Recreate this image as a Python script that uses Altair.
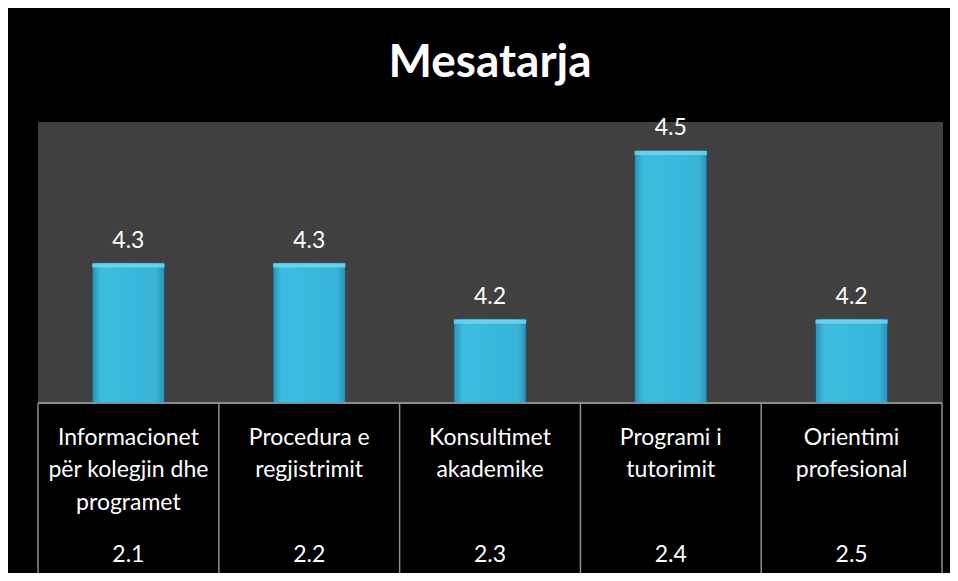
import altair as alt
import pandas as pd

categories = ["2.1", "2.2", "2.3", "2.4", "2.5"]
values = [4.3, 4.3, 4.2, 4.5, 4.2]
line1 = ["Informacionet", "Procedura e", "Konsultimet", "Programi i", "Orientimi"]
line2 = ["për kolegjin dhe", "regjistrimit", "akademike", "tutorimit", "profesional"]
line3 = ["programet", "", "", "", ""]
boundaries = [0, 1, 2, 3, 4, 5]

df = pd.DataFrame({"code": categories, "value": values,
                   "l1": line1, "l2": line2, "l3": line3})
bdf = pd.DataFrame({"b": boundaries})

FONT = "Lato"
W, H = 904, 281
YMIN, YMAX = 4.05, 4.55

xenc = alt.X("code:N", sort=categories, axis=None,
             scale=alt.Scale(paddingInner=0.6, paddingOuter=0.3))
yscale = alt.Scale(domain=[YMIN, YMAX], zero=False, nice=False)

grad = alt.Gradient(gradient="linear",
                    stops=[alt.GradientStop(color="#2a92b6", offset=0),
                           alt.GradientStop(color="#3cbde0", offset=0.12),
                           alt.GradientStop(color="#38b4d9", offset=0.88),
                           alt.GradientStop(color="#2a92b6", offset=1)],
                    x1=0, x2=1, y1=0, y2=0)

bars = alt.Chart(df).mark_bar(color=grad, stroke="#1d5668", strokeWidth=1).encode(
    x=xenc,
    y=alt.Y("value:Q", scale=yscale, axis=None),
    y2=alt.datum(YMIN),
)

bevel = alt.Chart(df).mark_tick(color="#6cd7f2", thickness=4, yOffset=3, opacity=0.85).encode(
    x=xenc,
    y=alt.Y("value:Q", scale=yscale, axis=None),
)

labels = alt.Chart(df).mark_text(color="white", font=FONT, fontSize=23,
                                 baseline="bottom", dy=-10).encode(
    x=xenc,
    y=alt.Y("value:Q", scale=yscale, axis=None),
    text=alt.Text("value:Q", format=".1f"),
)

def row(field, ypos):
    return alt.Chart(df).mark_text(color="white", font=FONT, fontSize=23,
                                   baseline="middle").encode(
        x=xenc, y=alt.value(ypos), text=alt.Text(f"{field}:N"))

baseline = alt.Chart(bdf).mark_rule(color="#8c8c8c", strokeWidth=1.5).encode(
    x=alt.value(0), x2=alt.value(W), y=alt.value(H))

seps = alt.Chart(bdf).mark_rule(color="#8c8c8c", strokeWidth=1.5).encode(
    x=alt.X("b:Q", scale=alt.Scale(domain=[0, 5], nice=False, zero=False), axis=None),
    y=alt.value(H), y2=alt.value(451))

chart = alt.layer(
    bars, bevel, labels,
    row("l1", 316), row("l2", 348), row("l3", 381), row("code", 433),
    baseline, seps,
).resolve_scale(x="independent").properties(
    width=W, height=H,
    autosize=alt.AutoSizeParams(type="none"),
    padding={"left": 30, "top": 114, "right": 8, "bottom": 170},
    background="black",
    title=alt.TitleParams("Mesatarja", color="white", font=FONT, fontSize=46,
                          fontWeight="bold", anchor="middle", frame="group",
                          offset=30),
).configure_view(fill="#404040", stroke="#404040")

chart.save("out.html", embed_options={"renderer": "svg", "actions": False})
